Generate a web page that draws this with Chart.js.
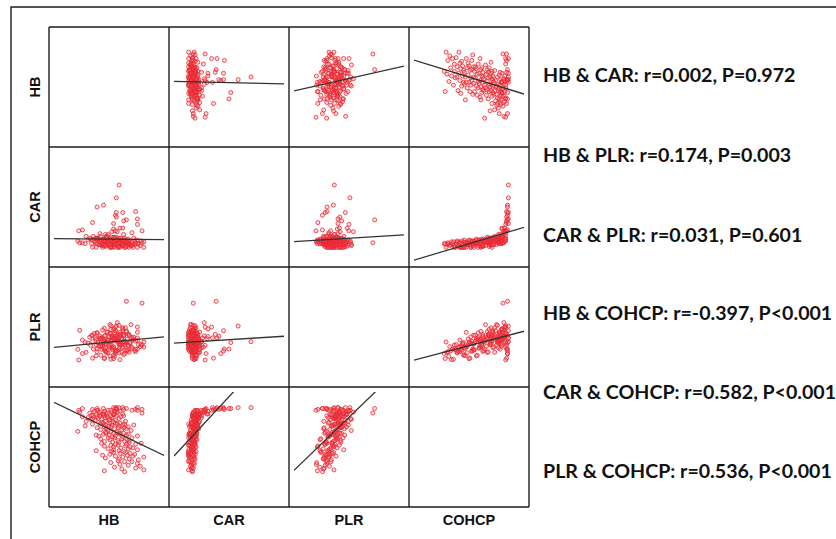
<!DOCTYPE html>
<html>
<head>
<meta charset="utf-8">
<script src="https://cdn.jsdelivr.net/npm/chart.js@4.4.1/dist/chart.umd.min.js"></script>
<style>
  body { margin: 0; background: #fff; width: 836px; height: 539px; overflow: hidden; position: relative; font-family: "Liberation Sans", Arial, sans-serif; }
  canvas { position: absolute; }
  .lab { position: absolute; width: 120px; height: 20px; line-height: 20px; text-align: center; font-weight: bold; font-size: 14.5px; color: #111; }
  .note { position: absolute; left: 543px; height: 24px; line-height: 24px; white-space: nowrap; font-family: Lato, "Open Sans", sans-serif; font-weight: bold; color: #111; }
</style>
</head>
<body>
<canvas id="frame" width="836" height="539" style="left:0;top:0;z-index:3"></canvas>
<script>
// one value per patient, same order in every array
const HB = [
  127,105,148,124,139,116,144,131,122,141,112,135,127,120,
  142,121,132,106,148,125,117,136,103,130,111,138,122,133,115,128,113,126,
  121,96,141,115,131,109,136,123,115,133,105,128,120,112,139,117,129,102,145,121,114,132,
  127,105,132,120,111,130,101,124,116,109,135,114,125,99,141,117,110,129,96,122,104,131,115,126,107,121,106,119,
  112,76,134,109,124,101,129,116,107,126,97,120,112,105,131,110,121,84,137,113,106,125,92,119,100,127,111,122,104,117,102,115,
  106,128,85,110,95,117,90,102,111,92,121,98,106,113,87,108,97,123,81,105,112,93,126,100,118,91,107,96,115,101,116,103,
  125,104,115,89,146,108,100,119,78,113,94,122,105,117,98,112,97,109,
  121,118,104,97,125,139,117,118,129,141,141,92,81,77,126,115,146,135,118
];
const CAR = [
  0.25,0.25,0.05,0.20,0.30,0.25,0.15,0.20,0.35,0.25,0.35,0.15,0.05,0.05,
  0.25,0.35,0.40,0.10,0.35,0.15,0.25,0.05,0.05,0.30,0.05,0.40,0.05,0.15,0.35,0.05,0.05,0.45,
  0.30,0.25,0.05,0.20,0.35,0.30,0.20,0.20,0.45,0.25,0.40,0.15,0.05,0.05,0.25,0.35,0.40,0.15,0.40,0.15,0.25,0.05,
  0.40,0.35,0.25,0.30,0.50,0.30,0.45,0.25,0.05,0.15,0.30,0.40,0.45,0.20,0.45,0.25,0.30,0.10,0.05,0.40,0.15,0.50,0.10,0.20,0.40,0.10,0.15,0.50,
  0.40,0.40,0.15,0.35,0.45,0.40,0.30,0.35,0.60,0.40,0.55,0.30,0.10,0.20,0.40,0.45,0.55,0.25,0.55,0.30,0.40,0.15,0.05,0.45,0.20,0.55,0.20,0.25,0.50,0.20,0.20,0.60,
  0.40,0.45,0.65,0.50,0.35,0.40,0.50,0.45,0.20,0.45,0.30,0.50,0.75,0.60,0.45,0.35,0.25,0.55,0.30,0.50,0.45,0.65,0.75,0.35,0.60,0.25,0.65,0.55,0.35,0.65,0.60,0.25,
  1.10,0.40,1.05,0.55,0.30,0.65,0.80,0.90,0.30,0.90,0.50,1.10,0.40,0.95,0.55,0.40,0.50,0.75,
  3.45,2.75,2.35,2.25,1.95,2.00,1.80,1.70,1.55,1.60,1.30,1.40,1.00,0.95,1.50,1.35,0.95,0.85,1.95
];
const PLR = [
  156,128,218,162,165,140,193,170,122,179,124,182,201,176,
  204,159,162,168,191,190,165,229,197,175,184,172,207,210,146,216,188,149,
  183,143,271,191,195,159,235,203,127,215,131,219,247,211,223,167,171,179,207,206,175,255,
  213,175,255,222,142,234,146,238,268,230,243,184,188,196,226,225,192,276,234,205,217,201,247,251,167,259,221,171,
  220,178,313,228,233,195,275,241,161,254,165,258,287,250,262,203,207,216,245,246,212,296,254,224,237,221,266,271,187,279,241,191,
  254,296,162,246,242,280,200,233,313,221,309,217,187,225,212,271,267,259,229,230,263,179,221,250,238,254,208,204,288,196,233,284,
  290,231,236,244,430,272,240,324,282,252,265,248,294,299,214,307,269,219,
  220,305,215,180,280,180,155,250,440,240,300,130,155,120,260,240,200,190,170
];
const COHCP = [
  3.3,3.4,3.5,3.6,3.7,3.8,3.9,4.0,4.1,4.2,4.3,4.4,4.4,4.5,
  4.6,4.7,4.7,4.8,4.9,4.9,5.0,5.0,5.1,5.1,5.2,5.2,5.3,5.3,5.4,5.4,5.5,5.5,
  5.6,5.6,5.7,5.7,5.8,5.8,5.9,5.9,6.0,6.0,6.1,6.1,6.2,6.2,6.3,6.3,6.3,6.4,6.4,6.5,6.5,6.5,
  6.6,6.6,6.7,6.7,6.8,6.8,6.9,6.9,7.0,7.0,7.0,7.1,7.1,7.2,7.2,7.2,7.3,7.3,7.3,7.4,7.4,7.4,7.5,7.5,7.5,7.5,7.6,7.6,
  7.7,7.7,7.8,7.8,7.9,7.9,8.0,8.0,8.0,8.1,8.1,8.1,8.2,8.2,8.2,8.3,8.3,8.3,8.4,8.4,8.4,8.4,8.5,8.5,8.5,8.5,8.6,8.6,8.6,8.6,8.7,8.7,
  8.8,8.8,8.8,8.9,8.9,8.9,9.0,9.0,9.0,9.1,9.1,9.1,9.2,9.2,9.2,9.3,9.3,9.3,9.3,9.4,9.4,9.4,9.4,9.42,9.46,9.48,9.5,9.52,9.54,9.56,9.58,9.6,
  9.6,9.6,9.6,9.7,9.7,9.7,9.8,9.8,9.8,9.8,9.9,9.9,9.9,9.9,10.0,10.0,10.0,10.0,
  10.3,10.3,10.2,10.2,10.3,10.1,10.2,10.1,10.2,10.3,10.0,10.1,10.2,10.0,10.1,10.3,10.1,10.0,10.2
];

const varNames = ['HB', 'CAR', 'PLR', 'COHCP'];
const axisMin = [50, -0.75, 0, 0];
const axisMax = [170, 5.25, 600, 12];

const notes = [
  'HB & CAR: r=0.002, P=0.972',
  'HB & PLR: r=0.174, P=0.003',
  'CAR & PLR: r=0.031, P=0.601',
  'HB & COHCP: r=-0.397, P<0.001',
  'CAR & COHCP: r=0.582, P<0.001',
  'PLR & COHCP: r=0.536, P<0.001'
];

const series = [HB, CAR, PLR, COHCP];
const X0 = 49, Y0 = 27, CELL = 120;

// least squares fit of ys on xs
function fit(xs, ys) {
  const n = xs.length;
  let mx = 0, my = 0;
  for (let i = 0; i < n; i++) { mx += xs[i]; my += ys[i]; }
  mx /= n; my /= n;
  let sxy = 0, sxx = 0;
  for (let i = 0; i < n; i++) {
    sxy += (xs[i] - mx) * (ys[i] - my);
    sxx += (xs[i] - mx) ** 2;
  }
  const b = sxy / sxx;
  return { a: my - b * mx, b: b };
}

for (let i = 0; i < 4; i++) {
  for (let j = 0; j < 4; j++) {
    if (i === j) continue;
    const xs = series[j], ys = series[i];
    const pts = xs.map((v, k) => ({ x: v, y: ys[k] }));
    const f = fit(xs, ys);
    const fitLine = [
      { x: axisMin[j], y: f.a + f.b * axisMin[j] },
      { x: axisMax[j], y: f.a + f.b * axisMax[j] }
    ];
    const cv = document.createElement('canvas');
    cv.width = CELL; cv.height = CELL;
    cv.style.left = (X0 + CELL * j) + 'px';
    cv.style.top = (Y0 + CELL * i) + 'px';
    cv.style.width = CELL + 'px'; cv.style.height = CELL + 'px';
    document.body.appendChild(cv);
    new Chart(cv, {
      data: {
        datasets: [
          { type: 'scatter', data: pts, pointRadius: 2, borderWidth: 1,
            borderColor: 'rgba(232,40,50,0.8)', backgroundColor: 'rgba(240,90,100,0.2)', order: 1 },
          { type: 'line', data: fitLine, borderColor: '#333', borderWidth: 1.3,
            pointRadius: 0, fill: false, order: 0 }
        ]
      },
      options: {
        responsive: false, animation: false, events: [],
        layout: { padding: 0 },
        plugins: { legend: { display: false }, tooltip: { enabled: false } },
        scales: {
          x: { type: 'linear', display: false, min: axisMin[j], max: axisMax[j] },
          y: { type: 'linear', display: false, min: axisMin[i], max: axisMax[i] }
        }
      }
    });
  }
}

// frame and matrix grid
const fc = document.getElementById('frame').getContext('2d');
fc.strokeStyle = '#1e1e1e';
fc.lineWidth = 1.4;
fc.beginPath();
fc.moveTo(11, 539); fc.lineTo(11, 7); fc.lineTo(836, 7);
for (let k = 0; k <= 4; k++) {
  fc.moveTo(X0 + CELL * k, Y0); fc.lineTo(X0 + CELL * k, Y0 + CELL * 4);
  fc.moveTo(X0, Y0 + CELL * k); fc.lineTo(X0 + CELL * 4, Y0 + CELL * k);
}
fc.stroke();

// axis labels
varNames.forEach((name, k) => {
  const r = document.createElement('div');
  r.className = 'lab'; r.textContent = name;
  r.style.left = (35 - 60) + 'px';
  r.style.top = (Y0 + CELL * k + 60 - 10) + 'px';
  r.style.transform = 'rotate(-90deg)';
  document.body.appendChild(r);
  const c = document.createElement('div');
  c.className = 'lab'; c.textContent = name;
  c.style.left = (X0 + CELL * k) + 'px';
  c.style.top = '510px';
  document.body.appendChild(c);
});

// correlation notes, sized so the first line spans the same width as the original
const mc = document.createElement('canvas').getContext('2d');
mc.font = 'bold 20px Lato';
const fs = 20 * 252 / mc.measureText(notes[0]).width;
const noteY = [75, 155, 235, 313, 392, 471];
notes.forEach((t, k) => {
  const n = document.createElement('div');
  n.className = 'note'; n.textContent = t;
  n.style.fontSize = fs.toFixed(1) + 'px';
  n.style.top = (noteY[k] - 12) + 'px';
  document.body.appendChild(n);
});
</script>
</body>
</html>
